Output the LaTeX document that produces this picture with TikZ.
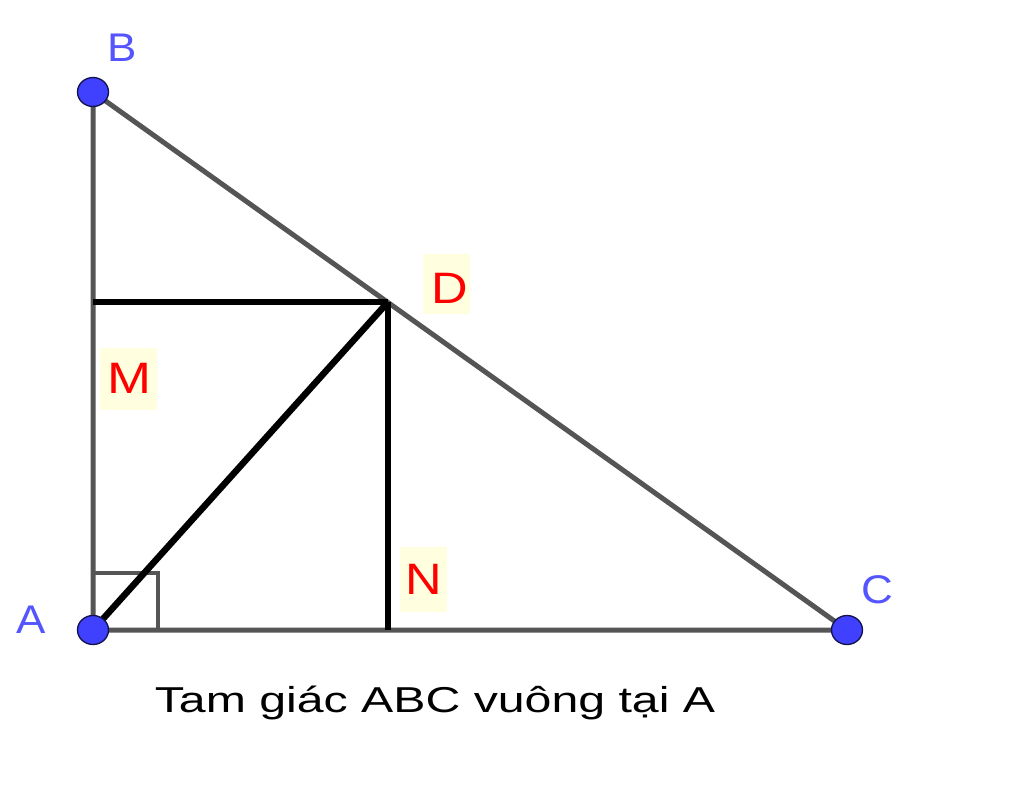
\documentclass[tikz,border=0pt]{standalone}
\usepackage{fontspec}
\usepackage{graphicx}
\setmainfont{Liberation Sans}
\usetikzlibrary{shapes.geometric}
\definecolor{ptblue}{RGB}{64,64,255}
\definecolor{lblblue}{RGB}{85,85,255}
\definecolor{edgegray}{RGB}{85,85,85}
\definecolor{lblbg}{RGB}{255,255,224}
\tikzset{
  pt/.style={ellipse, minimum width=31*0.75pt, minimum height=29*0.75pt, inner sep=0pt, fill=ptblue, draw=black!70!ptblue, line width=1pt},
  side/.style={draw=edgegray, line width=5*0.75pt},
  seg/.style={draw=black, line width=6.5*0.75pt},
  bluelbl/.style={text=lblblue, font=\fontsize{30}{35}\selectfont, inner sep=0pt},
  redlbl/.style={text=red, font=\fontsize{33}{39}\selectfont, inner sep=0pt}
}
\begin{document}
\begin{tikzpicture}[x=0.75pt,y=-0.75pt]
\useasboundingbox (0,0) rectangle (1024,785);
% label backgrounds
\fill[lblbg] (423,254) rectangle (470,314);
\fill[lblbg] (100,348) rectangle (157,410);
\fill[lblbg] (400,547) rectangle (447,612);
% point positions
\coordinate (Ap) at (93,630);
\coordinate (Bp) at (93,92);
\coordinate (Cp) at (847,630);
\coordinate (Dp) at (388,302);
\coordinate (M) at (93,302);
\coordinate (N) at (388,630);
% triangle sides
\draw[side] (Bp) -- (Ap) -- (Cp) -- cycle;
% right angle mark
\draw[draw=edgegray, line width=4*0.75pt] (93,573) -- (158,573) -- (158,630);
% black segments
\draw[seg] (M) -- (Dp);
\draw[seg] (Dp) -- (N);
\draw[seg] (Ap) -- (Dp);
% points
\node[pt] (A) at (Ap) {};
\node[pt] (B) at (Bp) {};
\node[pt] (C) at (Cp) {};
% labels
\node[bluelbl] (lB) at (122,48) {\scalebox{1.1}[1]{B}};
\node[bluelbl] (lA) at (31,620) {\scalebox{1.1}[1]{A}};
\node[bluelbl] (lC) at (877,590) {\scalebox{1.1}[1]{C}};
\node[redlbl] (lD) at (450,288) {\scalebox{1.15}[1]{D}};
\node[redlbl] (lM) at (129,378) {\scalebox{1.2}[1]{M}};
\node[redlbl] (lN) at (424,579) {\scalebox{1.15}[1]{N}};
\node[font=\fontsize{27}{32}\selectfont, inner sep=0pt] (cap) at (435,703) {\scalebox{1.34}[1]{Tam giác ABC vuông tại A}};
\end{tikzpicture}
\end{document}
